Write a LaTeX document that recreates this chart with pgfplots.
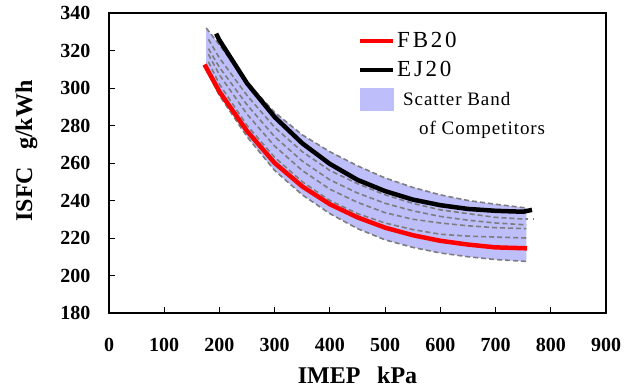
\documentclass[border=0pt]{standalone}
\usepackage{fontspec}
\setmainfont{Liberation Serif}
\newfontfamily\legfont[LetterSpace=12]{Liberation Serif}
\newfontfamily\legfontb[LetterSpace=5]{Liberation Serif}
\usepackage{pgfplots}
\pgfplotsset{compat=1.18}
\usepgfplotslibrary{fillbetween}
\definecolor{bandcol}{RGB}{190,190,250}
\definecolor{dgray}{RGB}{125,125,125}
\begin{document}
\begin{tikzpicture}[x=1pt,y=1pt]
\begin{axis}[
  scale only axis,
  width=497pt, height=300pt,
  xmin=0, xmax=900, ymin=180, ymax=340,
  xtick={0,100,...,900}, ytick={180,200,...,340},
  tick align=inside, xtick pos=bottom, ytick pos=left,
  major tick length=6pt,
  axis line style={line width=1.6pt},
  tick style={line width=0.8pt, black},
  /pgf/number format/assume math mode=true,
  ticklabel style={font=\fontsize{20}{22}\selectfont\bfseries},
  xticklabel style={yshift=-22pt},
  yticklabel style={xshift=-15pt},
  xlabel={IMEP\hspace{0.7em}kPa},
  ylabel={ISFC\hspace{0.7em}g/kWh},
  label style={font=\fontsize{24}{26}\selectfont\bfseries},
  xlabel style={at={(rel axis cs:0.5,0)}, anchor=base, yshift=-70pt},
  ylabel style={at={(rel axis cs:0,0.54)}, anchor=base, yshift=77pt},
  legend style={draw=none, fill=none, at={(rel axis cs:0.5,0.955)}, anchor=north west,
    font=\legfont\fontsize{23}{25}\selectfont, row sep=0pt, inner sep=0pt,
    nodes={inner sep=2pt, text height=19pt, text depth=6pt, anchor=west}},
  legend cell align=left,
]
% band boundaries
\addplot[name path=top, draw=none, forget plot] coordinates {
(176,332) (200,323) (250,303) (300,287) (350,275) (400,266) (450,258.5) (500,252) (550,247) (600,243) (650,240) (700,238) (756,236)};
\addplot[name path=bot, draw=none, forget plot] coordinates {
(176,310) (200,296) (250,274) (300,256) (350,243) (400,233) (450,225) (500,219) (550,215) (600,212) (650,210) (700,208.5) (756,207.5)};
\addplot[bandcol, forget plot] fill between[of=top and bot];
\addplot[dgray, line width=1.6pt, dash pattern=on 5pt off 3pt, forget plot] coordinates {
(176,332) (200,323) (250,303) (300,287) (350,275) (400,266) (450,258.5) (500,252) (550,247) (600,243) (650,240) (700,238) (756,236)};
\addplot[dgray, line width=1.6pt, dash pattern=on 5pt off 3pt, forget plot] coordinates {
(176,310) (200,296) (250,274) (300,256) (350,243) (400,233) (450,225) (500,219) (550,215) (600,212) (650,210) (700,208.5) (756,207.5)};
% competitor curves
\addplot[dgray, line width=1.6pt, dash pattern=on 5pt off 3pt, forget plot] coordinates {
(180,326) (200,316) (250,296) (300,279) (350,266) (400,256) (450,249) (500,243) (550,238.5) (600,235) (650,233) (700,231) (756,230)};
\addplot[dgray, line width=1.6pt, dash pattern=on 1.5pt off 5pt, forget plot] coordinates {(756,230) (775,230)};
\addplot[dgray, line width=1.6pt, dash pattern=on 5pt off 3pt, forget plot] coordinates {
(180,321) (200,311) (250,291) (300,274) (350,261) (400,251) (450,244) (500,238.5) (550,234.5) (600,231.5) (650,229.5) (700,228) (756,227)};
\addplot[dgray, line width=1.6pt, dash pattern=on 5pt off 3pt, forget plot] coordinates {
(180,318) (200,307) (250,286) (300,269) (350,256) (400,246) (450,239) (500,233.5) (550,230) (600,228) (650,226.5) (700,225.5) (756,225)};
\addplot[dgray, line width=1.6pt, dash pattern=on 5pt off 3pt, forget plot] coordinates {
(180,314) (200,302) (250,280) (300,263) (350,250) (400,240) (450,233) (500,228) (550,224.5) (600,222) (650,221) (700,220.5) (756,220)};
% EJ20 and FB20
\addplot[black, line width=4.5pt, forget plot] coordinates {
(194,329) (200,325.5) (250,302.5) (300,284.5) (350,270.5) (400,259.5) (450,251) (500,245) (550,240.5) (600,237.5) (650,235.5) (700,234.5) (750,234) (766,235)};
\addplot[red, line width=4.5pt, forget plot] coordinates {
(173,312.5) (200,298) (250,277) (300,260) (350,247.5) (400,238) (450,231) (500,225.5) (550,221.5) (600,218.5) (650,216.5) (700,215) (757,214.5)};
\addlegendimage{legend image code/.code={\draw[red, line width=4.5pt] (0pt,0pt) -- (33pt,0pt);}}
\addlegendentry{FB20}
\addlegendimage{legend image code/.code={\draw[black, line width=4.5pt] (0pt,0pt) -- (33pt,0pt);}}
\addlegendentry{EJ20}
\addlegendimage{legend image code/.code={\fill[bandcol] (0pt,-11pt) rectangle (33pt,11pt);}}
\addlegendentry{\legfontb\fontsize{19}{22}\selectfont\hspace*{6pt}Scatter Band}
\addlegendimage{empty legend}
\addlegendentry{\legfontb\fontsize{19}{22}\selectfont\hspace*{22pt}of Competitors}
\end{axis}
\path (current axis.south west) +(-109pt,-74pt) (current axis.north east) +(26pt,13pt);
\end{tikzpicture}
\end{document}
